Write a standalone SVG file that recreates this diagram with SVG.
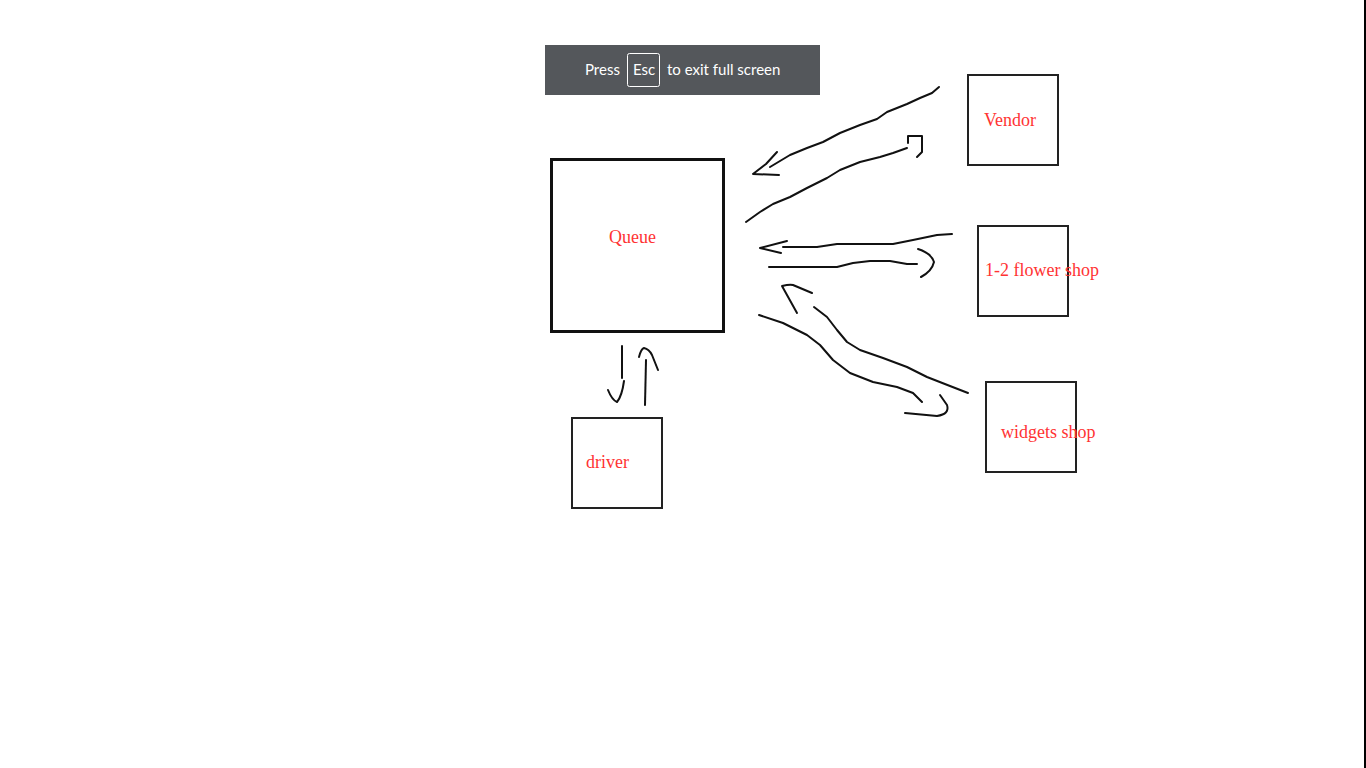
<svg xmlns="http://www.w3.org/2000/svg" width="1366" height="768" viewBox="0 0 1366 768">
  <style>
    .box { fill: none; stroke: #222; stroke-width: 2; }
    .label { font-family: "Liberation Serif", serif; font-size: 18px; fill: #ff3333; }
    .ink { fill: none; stroke: #111; stroke-width: 2; stroke-linecap: round; stroke-linejoin: round; }
    .toast { font-family: Lato, "Noto Sans", sans-serif; font-size: 15px; fill: #ffffff; }
  </style>
  <rect width="1366" height="768" fill="#ffffff"/>
  <line x1="1365" y1="0" x2="1365" y2="768" stroke="#000" stroke-width="2"/>

  <!-- full-screen hint bar -->
  <g id="fullscreen-hint">
    <rect x="545" y="45" width="275" height="50" fill="#54575b"/>
    <text class="toast" x="585" y="75">Press</text>
    <rect x="627.5" y="53.5" width="32" height="33" rx="2" fill="none" stroke="#ffffff" stroke-width="1"/>
    <text class="toast" x="633" y="75">Esc</text>
    <text class="toast" x="667" y="75">to exit full screen</text>
  </g>

  <g id="queue">
    <rect x="551.5" y="159.5" width="172" height="172" fill="none" stroke="#111" stroke-width="3"/>
    <text class="label" x="609" y="243">Queue</text>
  </g>
  <g id="vendor">
    <rect class="box" x="968" y="75" width="90" height="90"/>
    <text class="label" x="984" y="126">Vendor</text>
  </g>
  <g id="flower-shop">
    <rect class="box" x="978" y="226" width="90" height="90"/>
    <text class="label" x="985" y="276">1-2 flower shop</text>
  </g>
  <g id="widgets-shop">
    <rect class="box" x="986" y="382" width="90" height="90"/>
    <text class="label" x="1001" y="438">widgets shop</text>
  </g>
  <g id="driver">
    <rect class="box" x="572" y="418" width="90" height="90"/>
    <text class="label" x="586" y="468">driver</text>
  </g>

  <g id="connectors">
    <!-- vendor -> queue -->
    <path class="ink" d="M939,87 L932,93 L920,98 L907,104 L887,112 L877,119 L860,125 L840,133 L823,142 L807,148 L790,155 L770,167"/>
    <path class="ink" d="M777,152 L766,164 L753,174 L779,175"/>
    <!-- queue -> vendor -->
    <path class="ink" d="M746,222 L760,212 L773,204 L790,197 L807,188 L827,178 L840,170 L860,162 L880,157 L893,153 L907,148"/>
    <path class="ink" d="M908,143 L908,136 L922,136 L922,152 L917,157"/>
    <!-- flower shop -> queue -->
    <path class="ink" d="M952,234 L937,235 L913,240 L893,244 L837,244 L817,247 L783,247"/>
    <path class="ink" d="M787,241 L760,248 L781,253"/>
    <!-- queue -> flower shop -->
    <path class="ink" d="M769,267 L837,267 L853,263 L870,261 L890,261 L907,264 L917,264"/>
    <path class="ink" d="M918,249 Q931,253 934,262 Q932,271 921,277"/>
    <!-- widgets shop -> queue -->
    <path class="ink" d="M968,393 L950,386 L927,377 L907,367 L883,358 L860,350 L847,342 L837,330 L827,317 L814,307"/>
    <path class="ink" d="M797,313 L782,286 Q790,284 793,285 L812,293"/>
    <!-- queue -> widgets shop -->
    <path class="ink" d="M759,315 L783,323 L807,335 L820,345 L833,360 L850,373 L873,382 L897,387 L913,393 L922,402"/>
    <path class="ink" d="M940,395 L947,405 Q950,414 937,416 L905,413"/>
    <!-- queue -> driver -->
    <path class="ink" d="M622,346 L622,378"/>
    <path class="ink" d="M608,390 Q612,400 617,402 Q622,396 624,381"/>
    <!-- driver -> queue -->
    <path class="ink" d="M646,360 L645,405"/>
    <path class="ink" d="M639,357 Q641,349 644,348 Q649,349 652,355 L658,370"/>
  </g>
</svg>
